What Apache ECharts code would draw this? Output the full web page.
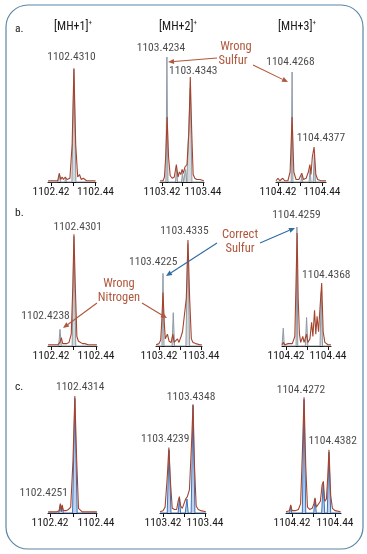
<!DOCTYPE html>
<html><head><meta charset="utf-8">
<script src="https://cdn.jsdelivr.net/npm/echarts@6/dist/echarts.min.js"></script>
<style>html,body{margin:0;padding:0;background:#fff}#c{width:367px;height:554px}</style>
</head><body><div id="c"></div>
<script>
const FONT = '"Liberation Sans Narrow","Roboto Condensed","Liberation Sans",sans-serif';

// ---- categories / tick labels ----
const rowNames = ['a.', 'b.', 'c.'];
const ionHeaders = ['[MH+1]', '[MH+2]', '[MH+3]'];
const panelBases = [1102.42, 1103.42, 1104.42];
const tickSteps = [0, 0.01, 0.02];
const tickLabelSteps = [0, 0.02];

// ---- measured spectra (red) : [m/z, relative intensity %] ----
const measuredA1 = [[1102.4187,1],[1102.4220,1],[1102.4230,1],[1102.4237,7],[1102.4244,2],[1102.4250,4],[1102.4256,2],[1102.4264,4],[1102.4272,2],[1102.4285,3],[1102.4295,30],[1102.4303,91],[1102.4311,30],[1102.4320,4],[1102.4328,6],[1102.4336,2],[1102.4345,3],[1102.4360,1],[1102.4400,1]];
const measuredA2 = [[1103.4191,1],[1103.4205,1],[1103.4212,4],[1103.4218,20],[1103.4225,52],[1103.4232,20],[1103.4240,5],[1103.4250,3],[1103.4260,4],[1103.4270,14],[1103.4278,4],[1103.4285,8],[1103.4292,6],[1103.4298,10],[1103.4304,7],[1103.4312,12],[1103.4322,14],[1103.4331,40],[1103.4338,84],[1103.4345,40],[1103.4352,6],[1103.4360,3],[1103.4370,2],[1103.4385,2],[1103.4404,1]];
const measuredA3 = [[1104.4191,1],[1104.4200,3],[1104.4208,1],[1104.4222,3],[1104.4230,1],[1104.4245,1],[1104.4255,8],[1104.4264,52],[1104.4272,8],[1104.4282,2],[1104.4295,2],[1104.4308,7],[1104.4316,2],[1104.4328,3],[1104.4338,8],[1104.4345,14],[1104.4350,6],[1104.4356,20],[1104.4364,28],[1104.4372,6],[1104.4380,2],[1104.4395,1],[1104.4418,1]];
const measuredB1 = [[1102.4187,1],[1102.4230,1],[1102.4240,3],[1102.4246,7],[1102.4252,2],[1102.4260,3],[1102.4270,2],[1102.4280,3],[1102.4290,10],[1102.4297,50],[1102.4302,94],[1102.4308,50],[1102.4315,8],[1102.4322,4],[1102.4330,4],[1102.4340,2],[1102.4350,2],[1102.4365,1],[1102.4404,1]];
const measuredB2 = [[1103.4186,1],[1103.4200,2],[1103.4208,5],[1103.4213,20],[1103.4219,45],[1103.4225,20],[1103.4230,6],[1103.4240,10],[1103.4248,4],[1103.4258,3],[1103.4266,10],[1103.4272,3],[1103.4280,3],[1103.4288,6],[1103.4295,3],[1103.4305,8],[1103.4312,12],[1103.4320,12],[1103.4330,40],[1103.4338,89],[1103.4346,40],[1103.4354,6],[1103.4362,3],[1103.4375,2],[1103.4395,1],[1103.4404,1]];
const measuredB3 = [[1104.4181,1],[1104.4187,3],[1104.4195,1],[1104.4210,2],[1104.4230,2],[1104.4242,8],[1104.4253,95],[1104.4258,40],[1104.4264,10],[1104.4270,3],[1104.4280,8],[1104.4286,3],[1104.4298,10],[1104.4304,3],[1104.4314,6],[1104.4322,20],[1104.4328,8],[1104.4336,30],[1104.4342,10],[1104.4348,25],[1104.4355,12],[1104.4363,35],[1104.4370,53],[1104.4377,12],[1104.4385,3],[1104.4400,1],[1104.4414,1]];
const measuredC1 = [[1102.4192,1],[1102.4230,1],[1102.4240,2],[1102.4245,8],[1102.4249,2],[1102.4253,7],[1102.4258,2],[1102.4270,2],[1102.4280,3],[1102.4290,5],[1102.4300,45],[1102.4308,100],[1102.4316,45],[1102.4324,4],[1102.4332,3],[1102.4340,1],[1102.4404,1]];
const measuredC2 = [[1103.4186,1],[1103.4200,2],[1103.4210,5],[1103.4220,30],[1103.4228,56],[1103.4236,25],[1103.4244,4],[1103.4255,3],[1103.4265,3],[1103.4272,10],[1103.4278,14],[1103.4284,6],[1103.4292,4],[1103.4300,8],[1103.4308,12],[1103.4316,14],[1103.4326,20],[1103.4336,60],[1103.4343,93],[1103.4350,40],[1103.4358,6],[1103.4368,3],[1103.4380,2],[1103.4404,1]];
const measuredC3 = [[1104.4172,1],[1104.4188,2],[1104.4194,7],[1104.4200,2],[1104.4215,2],[1104.4230,3],[1104.4240,8],[1104.4248,50],[1104.4256,99],[1104.4264,40],[1104.4272,5],[1104.4282,3],[1104.4294,4],[1104.4302,8],[1104.4307,13],[1104.4313,5],[1104.4322,4],[1104.4332,10],[1104.4340,24],[1104.4346,27],[1104.4352,10],[1104.4360,12],[1104.4366,30],[1104.4372,54],[1104.4380,15],[1104.4388,4],[1104.4400,2],[1104.4426,1]];

// ---- theoretical spectra (filled) ----
const theoryA1 = [[1102.4187,0],[1102.4230,0],[1102.4237,5],[1102.4244,0],[1102.4262,0],[1102.4266,3],[1102.4270,0],[1102.4294,0],[1102.4303,90],[1102.4312,0],[1102.4400,0]];
const theoryA2 = [[1103.4191,0],[1103.4219,0],[1103.4224,100],[1103.4229,0],[1103.4266,0],[1103.4271,10],[1103.4276,0],[1103.4295,0],[1103.4300,7],[1103.4305,0],[1103.4309,0],[1103.4315,10],[1103.4321,0],[1103.4330,0],[1103.4338,75],[1103.4346,0],[1103.4404,0]];
const theoryA3 = [[1104.4191,0],[1104.4260,0],[1104.4264,88],[1104.4268,0],[1104.4304,0],[1104.4308,5],[1104.4312,0],[1104.4341,0],[1104.4346,10],[1104.4350,0],[1104.4360,0],[1104.4365,22],[1104.4370,0],[1104.4418,0]];
const theoryB1 = [[1102.4187,0],[1102.4234,0],[1102.4240,14],[1102.4246,0],[1102.4294,0],[1102.4302,92],[1102.4310,0],[1102.4404,0]];
const theoryB2 = [[1103.4186,0],[1103.4214,0],[1103.4219,61],[1103.4224,0],[1103.4262,0],[1103.4268,28],[1103.4274,0],[1103.4328,0],[1103.4337,86],[1103.4346,0],[1103.4404,0]];
const theoryB3 = [[1104.4181,0],[1104.4182,0],[1104.4187,15],[1104.4192,0],[1104.4248,0],[1104.4252,100],[1104.4256,0],[1104.4292,0],[1104.4298,24],[1104.4304,0],[1104.4362,0],[1104.4368,45],[1104.4374,0],[1104.4414,0]];
const theoryC1 = [[1102.4192,0],[1102.4238,0],[1102.4245,7],[1102.4249,1],[1102.4253,6],[1102.4258,0],[1102.4298,0],[1102.4308,98],[1102.4318,0],[1102.4404,0]];
const theoryC2 = [[1103.4186,0],[1103.4220,0],[1103.4229,54],[1103.4238,0],[1103.4272,0],[1103.4278,12],[1103.4284,0],[1103.4306,0],[1103.4314,12],[1103.4320,0],[1103.4334,0],[1103.4343,92],[1103.4352,0],[1103.4404,0]];
const theoryC3 = [[1104.4172,0],[1104.4189,0],[1104.4194,6],[1104.4199,0],[1104.4248,0],[1104.4256,97],[1104.4264,0],[1104.4301,0],[1104.4307,12],[1104.4313,0],[1104.4338,0],[1104.4345,26],[1104.4352,0],[1104.4364,0],[1104.4372,52],[1104.4380,0],[1104.4426,0]];

// ---- peak labels: [labelled m/z, apex intensity %] ----
const peaksA1 = [[1102.4310, 91]];
const peaksA2 = [[1103.4234, 100], [1103.4343, 84]];
const peaksA3 = [[1104.4268, 88], [1104.4377, 28]];
const peaksB1 = [[1102.4301, 94], [1102.4238, 14]];
const peaksB2 = [[1103.4225, 61], [1103.4335, 89]];
const peaksB3 = [[1104.4259, 100], [1104.4368, 53]];
const peaksC1 = [[1102.4314, 100], [1102.4251, 8]];
const peaksC2 = [[1103.4348, 93], [1103.4239, 56]];
const peaksC3 = [[1104.4272, 99], [1104.4382, 54]];

const measured = [[measuredA1, measuredA2, measuredA3],[measuredB1, measuredB2, measuredB3],[measuredC1, measuredC2, measuredC3]];
const theory = [[theoryA1, theoryA2, theoryA3],[theoryB1, theoryB2, theoryB3],[theoryC1, theoryC2, theoryC3]];
const peaks = [[peaksA1, peaksA2, peaksA3],[peaksB1, peaksB2, peaksB3],[peaksC1, peaksC2, peaksC3]];

// ---- layout (pixels) ----
const rowsPx = [{top:57, axis:182, labelY:29}, {top:227, axis:346, labelY:213}, {top:396, axis:513, labelY:387}];
// [pixel of .42 tick, pixel of .44 tick, axis start, axis end]
const panelPx = [
  [[51,95.5,48,96],[162,203,160,204],[278,322,276,326]],
  [[51,96,48,97],[159,201,156,202],[286,328,282,331]],
  [[50,96,48,97],[163,205,160,206],[292,335,286,341]]
];
const labelOffsets = [
  [[[-4,-11]], [[-8,-9],[2,-6]], [[-2.5,-10],[4,-9]]],
  [[[4,-7],[-14,-13]], [[-11,-11],[-3,-9]], [[-2,-12],[5,-8]]],
  [[[4,-9],[-18,-11]], [[-3,-7],[-6,-8]], [[-6.5,-7],[1.5,-9]]]
];
const LABEL_SIZE = 11.5;

const RED = '#a5442e';
const grids = [], xAxes = [], yAxes = [], series = [];
let idx = 0;
for (let r = 0; r < 3; r++) {
  for (let c = 0; c < 3; c++) {
    const [t0, t2, s, e] = panelPx[r][c];
    const base = panelBases[c];
    const k = 0.02 / (t2 - t0);
    const R = rowsPx[r];
    grids.push({left: s, width: e - s, top: R.top, height: R.axis - R.top, containLabel: false});
    xAxes.push({
      type: 'value', gridIndex: idx, min: base + (s - t0) * k, max: base + (e - t0) * k,
      axisLine: {show: true, onZero: false, lineStyle: {color: '#111', width: 1}},
      axisTick: {show: true, length: 4, lineStyle: {color: '#111', width: 1},
        customValues: tickSteps.map(v => +(base + v).toFixed(2))},
      axisLabel: {show: true, margin: 4, fontSize: LABEL_SIZE, fontFamily: FONT, color: '#1a1a1a',
        customValues: tickLabelSteps.map(v => +(base + v).toFixed(2)),
        formatter: v => v.toFixed(2)},
      splitLine: {show: false}
    });
    yAxes.push({type: 'value', gridIndex: idx, min: 0, max: 100, show: false});
    const blue = r === 2;
    series.push({
      type: 'line', xAxisIndex: idx, yAxisIndex: idx, data: theory[r][c], symbol: 'none', z: 2,
      lineStyle: {color: blue ? '#3a74bb' : '#8d9aa6', width: 1},
      areaStyle: {color: blue ? 'rgba(150,180,230,0.6)' : '#d8d8d8', opacity: 1},
      silent: true, animation: false
    });
    series.push({
      type: 'line', xAxisIndex: idx, yAxisIndex: idx, data: measured[r][c], symbol: 'none', z: 3,
      lineStyle: {color: RED, width: 1.1}, silent: true, animation: false
    });
    series.push({
      type: 'scatter', xAxisIndex: idx, yAxisIndex: idx, symbolSize: 0, z: 5, animation: false, silent: true,
      data: peaks[r][c].map((p, i) => ({value: p, label: {offset: labelOffsets[r][c][i]}})),
      label: {show: true, position: 'inside', fontSize: LABEL_SIZE, fontFamily: FONT, color: '#1a1a1a',
        formatter: p => p.value[0].toFixed(4)}
    });
    idx++;
  }
}

function arrow(x1, y1, x2, y2, color) {
  const ang = Math.atan2(y2 - y1, x2 - x1);
  const L = 6, W = 2.6;
  const bx = x2 - L * Math.cos(ang), by = y2 - L * Math.sin(ang);
  const px = -Math.sin(ang) * W, py = Math.cos(ang) * W;
  return [
    {type: 'line', shape: {x1, y1, x2: bx, y2: by}, style: {stroke: color, lineWidth: 1.1}, z: 10},
    {type: 'polygon', shape: {points: [[x2, y2], [bx + px, by + py], [bx - px, by - py]]}, style: {fill: color}, z: 10}
  ];
}
const ANN_RED = '#b0573c', ANN_BLUE = '#2e6ca3';
const txt = (x, y, t, color, size) => ({type: 'text', x, y, z: 10,
  style: {text: t, fill: color, font: size + 'px ' + FONT, textAlign: 'center', textVerticalAlign: 'middle'}});

const graphics = [
  {type: 'rect', shape: {x: 6, y: 5, width: 357, height: 544, r: 22}, style: {fill: 'none', stroke: '#5b86a6', lineWidth: 1.2}, z: 0},
  ...rowNames.map((n, i) => ({type: 'text', x: 15, y: rowsPx[i].labelY, style: {text: n, fill: '#1a1a1a', font: '11.5px ' + FONT, textVerticalAlign: 'middle'}})),
  ...ionHeaders.map((h, i) => ({type: 'text', x: [73, 178, 297][i], y: 27,
    style: {text: '{m|' + h + '}{s|+}', textAlign: 'center', textVerticalAlign: 'middle',
      rich: {m: {font: '12px ' + FONT, fill: '#1a1a1a', lineHeight: 14}, s: {font: '7px ' + FONT, fill: '#1a1a1a', verticalAlign: 'top', lineHeight: 14, padding: [0, 0, 6, 0]}}}})),
  txt(236, 47, 'Wrong', ANN_RED, 12.5), txt(233, 61, 'Sulfur', ANN_RED, 12.5),
  ...arrow(217, 58, 168, 62, ANN_RED), ...arrow(253, 65, 288, 82, ANN_RED),
  txt(240, 235, 'Correct', ANN_RED, 12.5), txt(240, 249, 'Sulfur', ANN_RED, 12.5),
  ...arrow(217, 243, 166, 276, ANN_BLUE), ...arrow(260, 243, 295, 228, ANN_BLUE),
  txt(119, 284, 'Wrong', ANN_RED, 12.5), txt(119, 298, 'Nitrogen', ANN_RED, 12.5),
  ...arrow(97, 303, 63, 328, ANN_RED), ...arrow(142, 303, 167, 318, ANN_RED)
];

const chart = echarts.init(document.getElementById('c'), null, {renderer: 'canvas'});
chart.setOption({
  animation: false,
  backgroundColor: '#fff',
  grid: grids, xAxis: xAxes, yAxis: yAxes, series: series,
  graphic: graphics
});
</script></body></html>
